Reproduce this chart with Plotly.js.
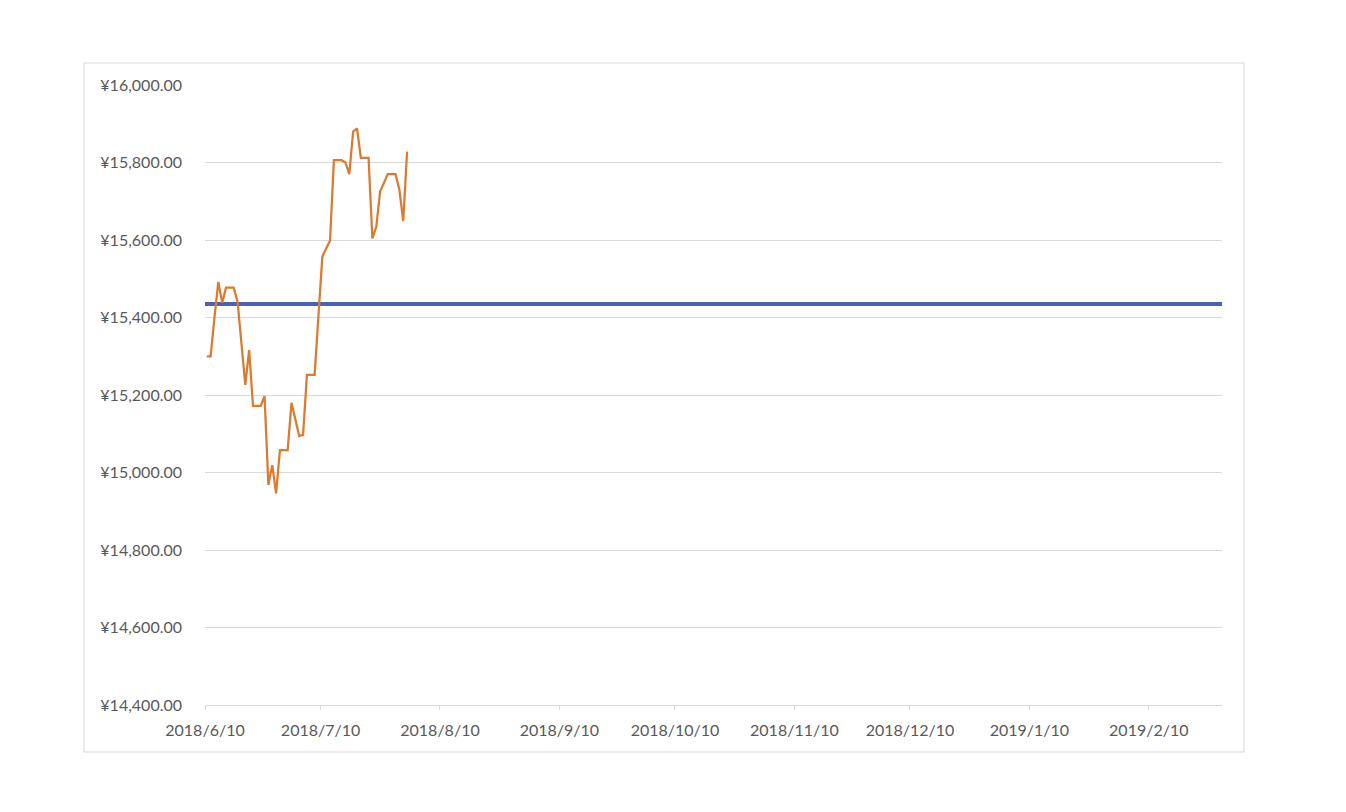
<!DOCTYPE html>
<html>
<head>
<meta charset="utf-8">
<script src="https://cdn.plot.ly/plotly-3.0.1.min.js"></script>
<style>
  html, body { margin: 0; padding: 0; background: #ffffff; }
  #chart { width: 1346px; height: 812px; }
</style>
</head>
<body>
<div id="chart"></div>
<script>
// Daily price series (weekends repeat Friday's value), starting 2018-06-10
const priceStart = '2018-06-10';
const priceValues = [
  15300, 15300, 15400, 15492, 15438, 15477, 15477, 15477, 15441, 15330,
  15226, 15316, 15172, 15172, 15172, 15197, 14968, 15019, 14946, 15058,
  15058, 15058, 15180, 15137, 15094, 15097, 15252, 15252, 15252, 15405,
  15557, 15578, 15598, 15806, 15806, 15806, 15800, 15770, 15880, 15888,
  15812, 15812, 15812, 15604, 15634, 15725, 15748, 15770, 15770, 15770,
  15730, 15649, 15828
];

// Constant reference line (blue)
const refDates = ['2018-06-10', '2019-03-01'];
const refValue = 15435;

// Axis tick labels
const xTickLabels = ['2018/6/10', '2018/7/10', '2018/8/10', '2018/9/10', '2018/10/10',
                     '2018/11/10', '2018/12/10', '2019/1/10', '2019/2/10'];
const xRange = ['2018-06-10', '2019-03-01'];
const yRange = [14400, 16000];
const yStep = 200;

function isoFromLabel(s) {
  const p = s.split('/');
  return p[0] + '-' + String(p[1]).padStart(2, '0') + '-' + String(p[2]).padStart(2, '0');
}
function addDays(iso, n) {
  const d = new Date(iso + 'T00:00:00Z');
  d.setUTCDate(d.getUTCDate() + n);
  return d.toISOString().slice(0, 10);
}
// points sit mid-day on the date axis, as in the reference
const priceDates = priceValues.map((_, i) => addDays(priceStart, i) + ' 11:00');
const xTickVals = xTickLabels.map(isoFromLabel);

const traces = [
  {
    x: refDates,
    y: refDates.map(() => refValue),
    type: 'scatter',
    mode: 'lines',
    line: { color: '#4a62b4', width: 4 },
    hoverinfo: 'skip',
    showlegend: false
  },
  {
    x: priceDates,
    y: priceValues,
    type: 'scatter',
    mode: 'lines',
    line: { color: '#dc7a30', width: 2.25 },
    showlegend: false
  }
];

const fontFam = 'Lato, "Open Sans", "Liberation Sans", sans-serif';

const layout = {
  width: 1346,
  height: 812,
  paper_bgcolor: '#ffffff',
  plot_bgcolor: '#ffffff',
  margin: { l: 205, r: 124, t: 85, b: 107 },
  showlegend: false,
  font: { family: fontFam, size: 16, color: '#595959' },
  xaxis: {
    type: 'date',
    range: xRange,
    tickmode: 'array',
    tickvals: xTickVals,
    ticktext: xTickLabels,
    showgrid: false,
    showline: true,
    linecolor: '#d9d9d9',
    linewidth: 1,
    ticks: 'outside',
    ticklen: 4,
    tickcolor: '#d9d9d9',
    ticklabelstandoff: 7,
    tickfont: { family: fontFam, size: 16, color: '#595959' },
    zeroline: false,
    fixedrange: true
  },
  yaxis: {
    range: yRange,
    dtick: yStep,
    tick0: yRange[0],
    tickprefix: '¥',
    tickformat: ',.2f',
    showgrid: true,
    gridcolor: '#d9d9d9',
    gridwidth: 1,
    showline: false,
    zeroline: false,
    ticks: '',
    ticklabelstandoff: 22,
    tickfont: { family: fontFam, size: 16, color: '#595959' },
    fixedrange: true
  },
  shapes: [
    {
      type: 'rect',
      xref: 'paper', yref: 'paper',
      x0: -0.119, x1: 1.0216,
      y0: -0.0758, y1: 1.0355,
      line: { color: '#d9d9d9', width: 1 },
      fillcolor: 'rgba(0,0,0,0)',
      layer: 'below'
    }
  ]
};

Plotly.newPlot('chart', traces, layout, { displayModeBar: false, staticPlot: true });
</script>
</body>
</html>
